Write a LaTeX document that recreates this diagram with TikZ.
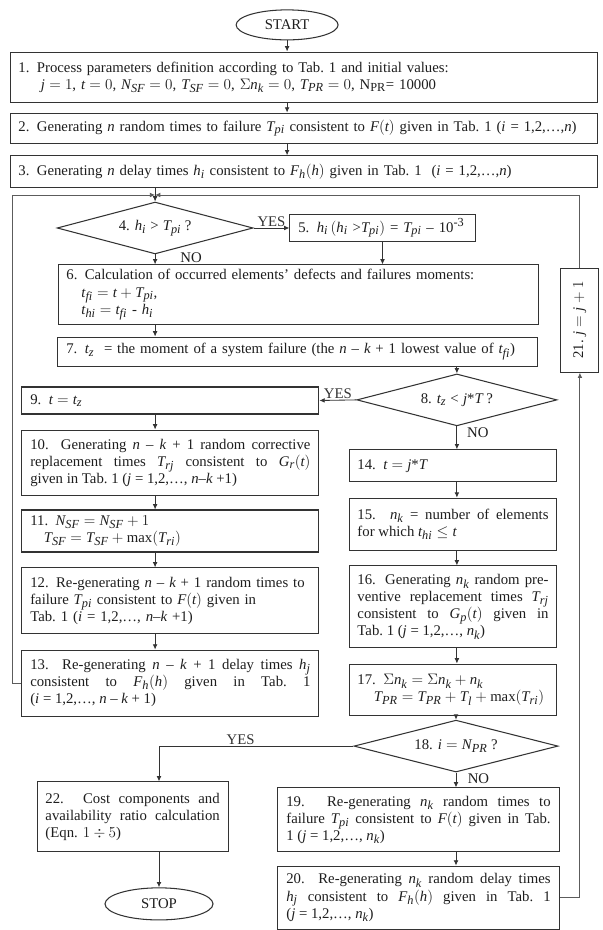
\documentclass[tikz,border=0pt]{standalone}
\usepackage{graphicx}
\usepackage{fontspec}
\setmainfont{Liberation Serif}
\usepackage[italic]{mathastext}
\usetikzlibrary{arrows.meta, positioning, shapes.geometric}
\definecolor{ink}{HTML}{1E1E1E}
\definecolor{frame}{HTML}{333333}
\definecolor{loopgray}{HTML}{5C5C5C}

\begin{document}
\begin{tikzpicture}[
  >={Latex[length=5pt, width=4.5pt]},
  font={\fontsize{14}{16.2}\selectfont}, text=ink,
  procbox/.style={draw=frame, line width=1pt, fill=white,
    inner xsep=0.28cm, inner ysep=0pt, align=left},
  justbox/.style={procbox, align=justify},
  decision/.style={diamond, aspect=4, draw=frame, line width=1pt, inner sep=0pt},
  terminal/.style={ellipse, draw=frame, line width=1pt, inner sep=0pt},
  flow/.style={->, line width=0.8pt, frame},
  loopline/.style={->, line width=0.8pt, loopgray},
  answer/.style={inner sep=1pt},
]

% Background
\useasboundingbox (0,0) rectangle (20.1,31);
\fill[white] (0,0) rectangle (20.1,31);

% =============================================
% Top: start and initialisation
% =============================================

\node[terminal, minimum width=3.4cm, minimum height=1cm] (start) at (9.57,30.17) {START};

\node[procbox, text width=19.01cm, minimum height=1.67cm] (b1) at (10.12,28.43)
  {1. Process parameters definition according to Tab.~1 and initial values:\\
   \hspace*{0.75cm}$j = 1$, $t = 0$, $N_{SF} = 0$, $T_{SF} = 0$, $\Sigma n_k = 0$, $T_{PR} = 0$, N\textsubscript{PR}= 10000};

\node[procbox, text width=19.01cm, minimum height=1cm] (b2) at (10.12,26.73)
  {2. Generating $n$ random times to failure $T_{pi}$ consistent to $F(t)$ given in Tab.~1 ($i$ = 1,2,…,$n$)};

\node[procbox, text width=19.01cm, minimum height=1.07cm] (b3) at (10.12,25.27)
  {3. Generating $n$ delay times $h_i$ consistent to $F_h(h)$ given in Tab.~1 \ ($i$ = 1,2,…,$n$)};

% =============================================
% Defects and failure moments
% =============================================

\node[decision, minimum width=6.53cm, minimum height=1.73cm] (d4) at (5.17,23.4)
  {4. $h_i > T_{pi}$ ?};

\node[procbox, text width=5.61cm, minimum height=0.93cm] (b5) at (12.75,23.4)
  {5. $h_i\,(h_i\ {>}T_{pi})$ = $T_{pi}$ – 10\textsuperscript{-3}};

\node[procbox, text width=15.47cm, minimum height=2cm] (b6) at (9.95,21.17)
  {6. Calculation of occurred elements' defects and failures moments:\\
   \hspace*{0.5cm}$t_{fi} = t + T_{pi}$,\\
   \hspace*{0.5cm}$t_{hi} = t_{fi}$ - $h_i$};

\node[procbox, text width=15.44cm, minimum height=0.97cm] (b7) at (9.93,19.28)
  {7. $t_z$ \ = the moment of a system failure (the $n$ – $k$ + 1 lowest value of $t_{fi}$)};

\node[decision, minimum width=6.67cm, minimum height=1.73cm] (d8) at (15.23,17.67)
  {8. $t_z < j$*$T$ ?};

% =============================================
% Left column: system failure branch
% =============================================

\node[procbox, text width=9.34cm, minimum height=0.9cm] (b9) at (5.68,17.65)
  {9. $t = t_z$};

\node[justbox, text width=9.34cm, minimum height=2.17cm] (b10) at (5.68,15.58)
  {10. Generating $n$ – $k$ + 1 random corrective\linebreak
   replacement times $T_{rj}$ consistent to $G_r(t)$\linebreak
   given in Tab.~1 ($j$ = 1,2,…, $n$–$k$ +1)};

\node[procbox, text width=9.34cm, minimum height=1.4cm] (b11) at (5.68,13.3)
  {11. $N_{SF} = N_{SF} + 1$\\
   \hspace*{0.45cm}$T_{SF} = T_{SF} + \max(T_{ri})$};

\node[procbox, text width=9.34cm, minimum height=2.2cm] (b12) at (5.68,10.97)
  {12. Re-generating $n$ – $k$ + 1 random times to\\
   failure $T_{pi}$ consistent to $F(t)$ given in\\
   Tab.~1 ($i$ = 1,2,…, $n$–$k$ +1)};

\node[justbox, text width=9.34cm, minimum height=2.2cm] (b13) at (5.68,8.23)
  {13. Re-generating $n$ – $k$ + 1 delay times $h_j$\linebreak
   consistent to $F_h(h)$ given in Tab.~1\linebreak
   ($i$ = 1,2,…, $n$ – $k$ + 1)};

% =============================================
% Right column: preventive replacement branch
% =============================================

\node[procbox, text width=6.37cm, minimum height=1.07cm] (b14) at (15.1,15.47)
  {14. $t = j$*$T$};

\node[justbox, text width=6.37cm, minimum height=1.73cm] (b15) at (15.1,13.53)
  {15. $n_k$ = number of elements\linebreak
   for which $t_{hi} \le t$};

\node[justbox, text width=6.37cm, minimum height=2.73cm] (b16) at (15.1,10.77)
  {16. Generating $n_k$ random pre-\linebreak
   ventive replacement times $T_{rj}$\linebreak
   consistent to $G_p(t)$ given in\linebreak
   Tab.~1 ($j$ = 1,2,…, $n_k$)};

\node[procbox, text width=6.37cm, minimum height=1.73cm] (b17) at (15.1,8.0)
  {17. $\Sigma n_k = \Sigma n_k + n_k$\\
   \hspace*{0.55cm}$T_{PR} = T_{PR} + T_l + \max(T_{ri})$};

\node[decision, minimum width=6.8cm, minimum height=1.73cm] (d18) at (15.2,6.13)
  {18. $i = N_{PR}$ ?};

\node[justbox, text width=8.81cm, minimum height=2.13cm] (b19) at (13.95,3.67)
  {19. Re-generating $n_k$ random times to\linebreak
   failure $T_{pi}$ consistent to $F(t)$ given in Tab.\linebreak
   1 ($j$ = 1,2,…, $n_k$)};

\node[justbox, text width=8.81cm, minimum height=2.1cm] (b20) at (13.95,1.08)
  {20. Re-generating $n_k$ random delay times\linebreak
   $h_j$ consistent to $F_h(h)$ given in Tab.~1\linebreak
   ($j$ = 1,2,…, $n_k$)};

\node[procbox, inner xsep=0pt, minimum width=1.27cm, minimum height=3.47cm] (b21) at (19.33,20.33)
  {\rotatebox{90}{21. $j = j + 1$}};

% =============================================
% Bottom left: results and stop
% =============================================

\node[justbox, text width=5.81cm, minimum height=2.33cm] (b22) at (4.42,3.77)
  {22. Cost components and\linebreak
   availability ratio calculation\linebreak
   (Eqn. $1 \div 5$)};

\node[terminal, minimum width=3.6cm, minimum height=1.07cm] (stop) at (5.3,0.87) {STOP};

% =============================================
% Connectors
% =============================================

\coordinate (join) at (5.17,24.5);

\draw[flow] (start.south) -- (b1.north -| start.south);
\draw[flow] (b1.south -| start) -- (b2.north -| start);
\draw[flow] (b2.south -| start) -- (b3.north -| start);
\draw[flow] (b3.south -| d4) -- (d4.north);

% loop back to step 4
\draw[loopline] (b13.west) -- ++(-0.3,0) |- (join);
\draw[loopline] (b21.north) |- (join);

\draw[flow] (d4.east) -- node[answer, above] (yes4) {YES} (b5.west);
\draw[flow] (d4.south) -- (b6.north -| d4.south);
\node[answer, anchor=base west] (no4) at ([xshift=0.8cm, yshift=0.06cm]b6.north -| d4.south) {NO};
\draw[flow] (b5.south) -- (b6.north -| b5.south);
\draw[flow] (b6.south -| d4) -- (b7.north -| d4);
\draw[flow] (b7.south -| d8) -- (d8.north);

\draw[flow] (d8.west) -- node[answer, above] (yes8) {YES} (b9.east);
\draw[flow] (b9.south -| d4) -- (b10.north -| d4);
\draw[flow] (b10.south -| d4) -- (b11.north -| d4);
\draw[flow] (b11.south -| d4) -- (b12.north -| d4);
\draw[flow] (b12.south -| d4) -- (b13.north -| d4);

\draw[flow] (d8.south) -- (b14.north -| d8.south);
\node[answer, anchor=north west] (no8) at ([xshift=0.3cm]d8.south) {NO};
\draw[flow] (b14.south -| d8) -- (b15.north -| d8);
\draw[flow] (b15.south -| d8) -- (b16.north -| d8);
\draw[flow] (b16.south -| d8) -- (b17.north -| d8);
\draw[flow] (b17.south -| d18) -- (d18.north);

\draw[flow] (d18.west) -- node[answer, above, pos=0.58] (yes18) {YES}
  (d18.west -| stop) -- (b22.north -| stop);
\draw[flow] (b22.south -| stop) -- (stop.north);

\draw[flow] (d18.south) -- (b19.north -| d18.south);
\node[answer, anchor=north west] (no18) at ([xshift=0.35cm]d18.south) {NO};
\draw[flow] (b19.south -| d18) -- (b20.north -| d18);

% back to j = j + 1
\draw[loopline] (b20.east) -| (b21.south);

\end{tikzpicture}
\end{document}
